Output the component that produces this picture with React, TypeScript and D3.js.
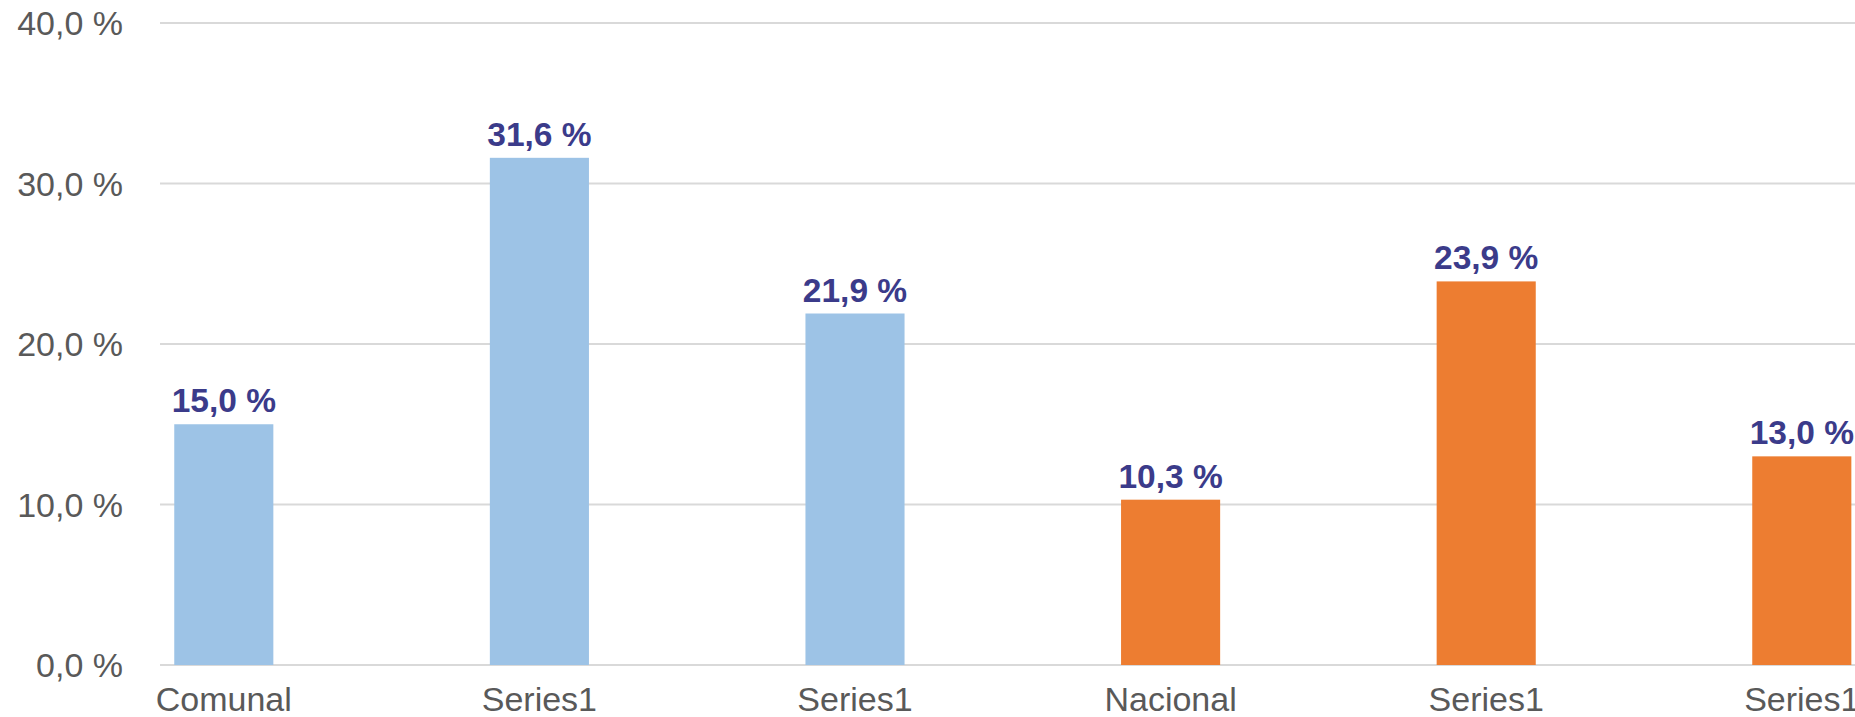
import React, { useEffect, useRef } from 'react';
import * as d3 from 'd3';

const categories = ['Comunal', 'Series1', 'Series1', 'Nacional', 'Series1', 'Series1'];
const values = [15.0, 31.6, 21.9, 10.3, 23.9, 13.0];
const barColors = ['#9DC3E6', '#9DC3E6', '#9DC3E6', '#ED7D31', '#ED7D31', '#ED7D31'];
const yTicks = [0, 10, 20, 30, 40];

const W = 1855;
const H = 717;

const fmt = (v: number) => v.toFixed(1).replace('.', ',') + ' %';

const App = () => {
  const ref = useRef<SVGSVGElement>(null);

  useEffect(() => {
    const svg = d3.select(ref.current);
    svg.selectAll('*').remove();

    const font = 'Liberation Sans, Arial, sans-serif';

    // plot area (chart is cut off on the right side)
    const gridLeft = 160;
    const y = d3.scaleLinear().domain([0, 40]).range([665, 23]);

    const x = d3.scaleBand<number>()
      .domain(d3.range(categories.length))
      .range([66, 66 + 315.6 * categories.length])
      .paddingInner(0.686)
      .paddingOuter(0.343);

    // gridlines
    svg.append('g')
      .selectAll('line')
      .data(yTicks)
      .enter()
      .append('line')
      .attr('x1', gridLeft)
      .attr('x2', W)
      .attr('y1', d => y(d))
      .attr('y2', d => y(d))
      .attr('stroke', '#D9D9D9')
      .attr('stroke-width', 2);

    // y labels
    svg.append('g')
      .selectAll('text')
      .data(yTicks)
      .enter()
      .append('text')
      .attr('x', 123)
      .attr('y', d => y(d))
      .attr('dy', '0.36em')
      .attr('text-anchor', 'end')
      .style('font-family', font)
      .style('font-size', '34px')
      .style('fill', '#595959')
      .text(d => fmt(d));

    // bars
    svg.append('g')
      .selectAll('rect')
      .data(values)
      .enter()
      .append('rect')
      .attr('x', (d, i) => x(i)!)
      .attr('width', x.bandwidth())
      .attr('y', d => y(d))
      .attr('height', d => y(0) - y(d))
      .attr('fill', (d, i) => barColors[i]);

    // value labels
    svg.append('g')
      .selectAll('text')
      .data(values)
      .enter()
      .append('text')
      .attr('x', (d, i) => x(i)! + x.bandwidth() / 2)
      .attr('y', d => y(d) - 12)
      .attr('text-anchor', 'middle')
      .style('font-family', font)
      .style('font-size', '33.5px')
      .style('font-weight', 'bold')
      .style('fill', '#3B3B8A')
      .text(d => fmt(d));

    // category labels
    svg.append('g')
      .selectAll('text')
      .data(categories)
      .enter()
      .append('text')
      .attr('x', (d, i) => x(i)! + x.bandwidth() / 2)
      .attr('y', 711)
      .attr('text-anchor', 'middle')
      .style('font-family', font)
      .style('font-size', '34px')
      .style('fill', '#595959')
      .text(d => d);
  }, []);

  return (
    <svg
      ref={ref}
      width={W}
      height={H}
      style={{ position: 'absolute', left: 0, top: 0, background: '#fff', display: 'block' }}
    />
  );
};

export default App;
